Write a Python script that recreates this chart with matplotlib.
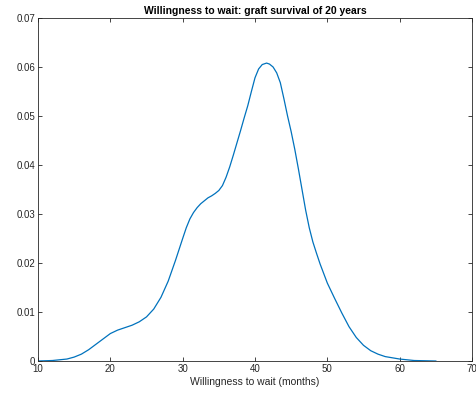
import matplotlib
matplotlib.use('Agg')
from matplotlib import pyplot as plt

# density curve
months = [10, 12, 14, 15, 16, 17, 18, 19, 20, 21, 22, 23, 24, 25, 26, 27, 28,
          29, 30, 30.5, 31, 31.5, 32, 32.5, 33, 33.5, 34, 34.5, 35, 35.5, 36,
          36.5, 37, 37.5, 38, 38.5, 39, 39.5, 40, 40.5, 41, 41.6, 42, 42.5, 43,
          43.5, 44, 44.5, 45, 45.5, 46, 46.5, 47, 47.5, 48, 48.5, 49, 50, 51,
          52, 53, 54, 55, 56, 57, 58, 60, 62, 65]
density = [0, 0.0001, 0.0004, 0.0008, 0.0014, 0.0023, 0.0034, 0.0045, 0.0056,
           0.0063, 0.0068, 0.0073, 0.0080, 0.0090, 0.0106, 0.0130, 0.0163,
           0.0205, 0.0250, 0.0272, 0.0290, 0.0303, 0.0313, 0.0321, 0.0327,
           0.0333, 0.0337, 0.0342, 0.0348, 0.0358, 0.0375,
           0.0396, 0.0420, 0.0445, 0.0470, 0.0496, 0.0521, 0.0550, 0.0578,
           0.0596, 0.0605, 0.0608, 0.0606, 0.0600, 0.0588,
           0.0568, 0.0535, 0.0500, 0.0468, 0.0432, 0.0392, 0.0350, 0.0308,
           0.0272, 0.0243, 0.0220, 0.0198, 0.0159, 0.0128,
           0.0098, 0.0070, 0.0048, 0.0032, 0.0021, 0.0014, 0.0009, 0.0004,
           0.0001, 0]

xticks = [10, 20, 30, 40, 50, 60, 70]
yticks = [0, 0.01, 0.02, 0.03, 0.04, 0.05, 0.06, 0.07]
ytick_labels = ['0', '0.01', '0.02', '0.03', '0.04', '0.05', '0.06', '0.07']

plt.rcParams['font.family'] = ['Liberation Sans', 'DejaVu Sans']
dark = '#262626'

fig = plt.figure(figsize=(4.77, 3.98), dpi=100)
ax = fig.add_axes([38 / 477, 37 / 398, 434 / 477, 343 / 398])
ax.plot(months, density, color='#0072BD', linewidth=0.9)

ax.set_xlim(10, 70)
ax.set_ylim(0, 0.07)
ax.set_xticks(xticks)
ax.set_yticks(yticks)
ax.set_yticklabels(ytick_labels)
ax.tick_params(direction='in', length=3, width=0.6, colors=dark,
               labelsize=7, top=True, right=True, pad=2)
for s in ax.spines.values():
    s.set_color(dark)
    s.set_linewidth(0.6)

ax.set_xlabel('Willingness to wait (months)', fontsize=7.5, color=dark, labelpad=2)
ax.set_title('Willingness to wait: graft survival of 20 years',
             fontsize=7.5, fontweight='bold', color='black', pad=3)

fig.savefig('out.png', dpi=100)
